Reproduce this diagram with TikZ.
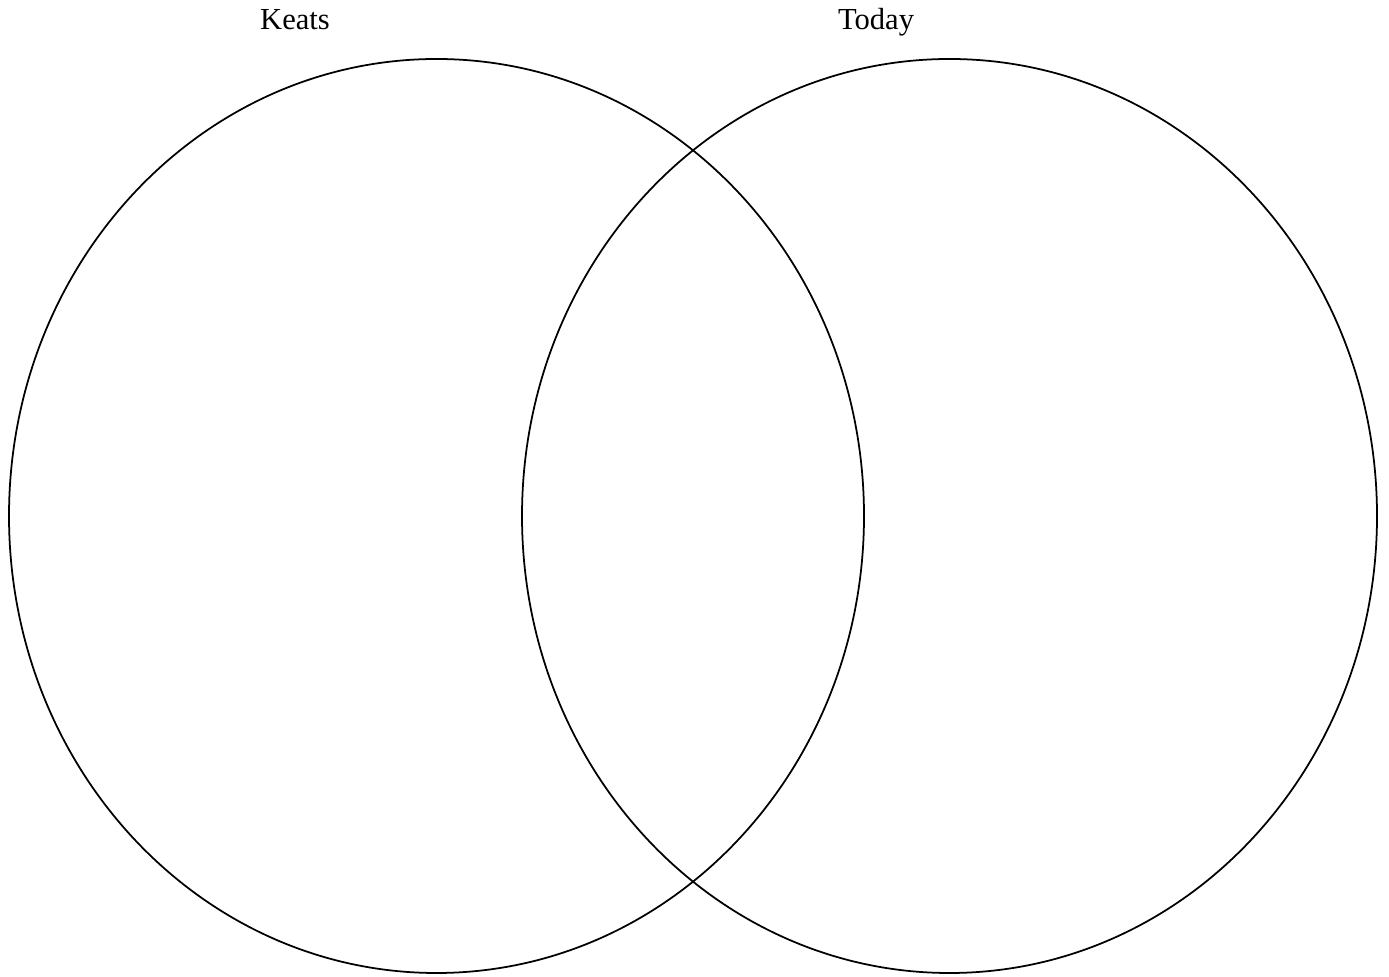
\documentclass[tikz,border=0pt]{standalone}
\usepackage{fontspec}
\setmainfont{Liberation Serif}
\usetikzlibrary{shapes.geometric,positioning}
\tikzset{
  vennset/.style={draw=black, ellipse, line width=1pt, minimum width=17.1cm, minimum height=18.28cm, inner sep=0pt},
  setlabel/.style={font=\fontsize{17.4}{20}\selectfont, text=black, anchor=base}
}
\begin{document}
\begin{tikzpicture}
  \useasboundingbox (0,0) rectangle (27.78,19.52);

  %% Set labels
  \node[setlabel] (keatslabel) at (5.9,18.93) {Keats};
  \node[setlabel] (todaylabel) at (17.52,18.93) {Today};

  %% Two overlapping sets
  \node[vennset] (keats) at (8.73,9.2) {};
  \node[vennset] (today) at (18.99,9.2) {};
\end{tikzpicture}
\end{document}
